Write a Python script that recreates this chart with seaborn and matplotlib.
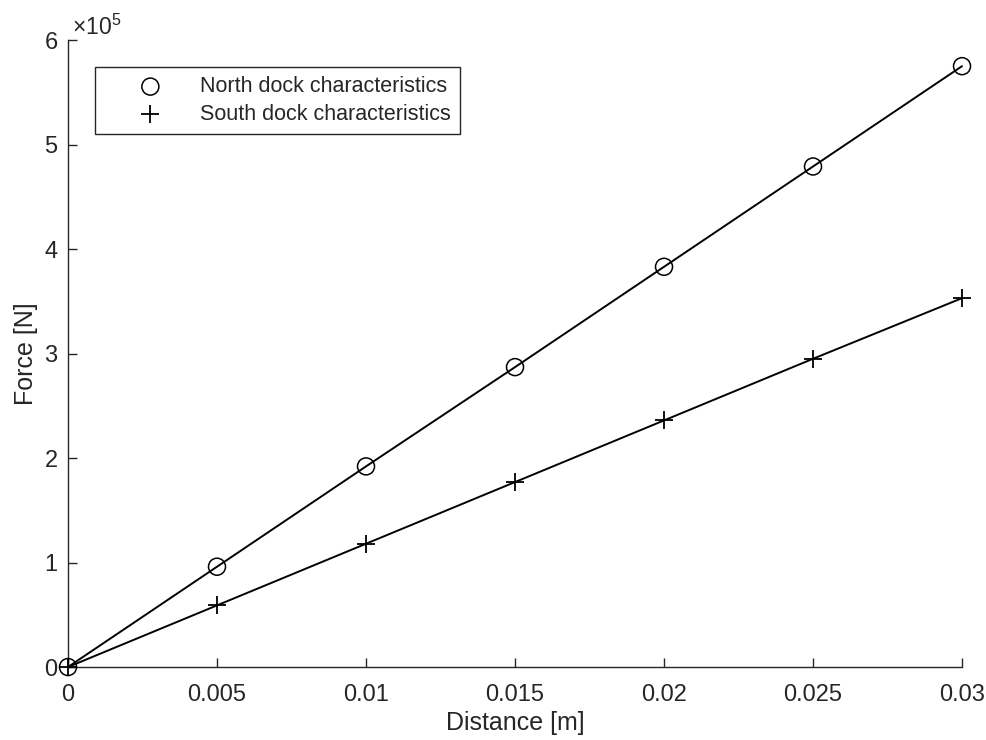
import matplotlib
matplotlib.use("Agg")
import matplotlib.pyplot as plt
from matplotlib.ticker import FuncFormatter
import seaborn as sns
import pandas as pd

# Measured dock characteristics
distance = [0.0, 0.005, 0.01, 0.015, 0.02, 0.025, 0.03]
north_force = [0.0, 0.96e5, 1.92e5, 2.87e5, 3.83e5, 4.79e5, 5.75e5]
south_force = [0.0, 0.59e5, 1.18e5, 1.77e5, 2.36e5, 2.95e5, 3.53e5]
x_ticks = [0, 0.005, 0.01, 0.015, 0.02, 0.025, 0.03]
y_ticks = [0, 1e5, 2e5, 3e5, 4e5, 5e5, 6e5]

sns.set_theme(style="ticks")
plt.rcParams["font.family"] = ["Liberation Sans", "DejaVu Sans"]
plt.rcParams["mathtext.fontset"] = "custom"
plt.rcParams["mathtext.rm"] = "Liberation Sans"
plt.rcParams["mathtext.it"] = "Liberation Sans"

TXT = "#262626"

north = pd.DataFrame({"x": distance, "y": north_force})
south = pd.DataFrame({"x": distance, "y": south_force})

fig = plt.figure(figsize=(9.87, 7.40), dpi=100)
ax = fig.add_axes([0.0689, 0.0986, 0.9058, 0.8473])

sns.lineplot(data=north, x="x", y="y", color="black", linewidth=1.4, ax=ax, legend=False)
sns.lineplot(data=south, x="x", y="y", color="black", linewidth=1.4, ax=ax, legend=False)
sns.scatterplot(data=north, x="x", y="y", marker="o", s=150, facecolor="none",
                edgecolor="black", linewidth=1.1, ax=ax, label="North dock characteristics", zorder=3)
sns.scatterplot(data=south, x="x", y="y", marker="+", s=170, color="black",
                linewidth=1.3, ax=ax, label="South dock characteristics", zorder=3)

ax.set_xlim(0, 0.03)
ax.set_ylim(0, 6e5)
ax.set_xticks(x_ticks)
ax.set_yticks(y_ticks)
ax.xaxis.set_major_formatter(FuncFormatter(lambda v, p: f"{v:g}"))
ax.yaxis.set_major_formatter(FuncFormatter(lambda v, p: f"{v / 1e5:g}"))
ax.tick_params(direction="in", length=6.5, width=1.0, colors=TXT, labelsize=17)
ax.tick_params(axis="x", pad=12)
ax.tick_params(axis="y", pad=7.5)
for s in ["top", "right"]:
    ax.spines[s].set_visible(False)
for s in ["left", "bottom"]:
    ax.spines[s].set_color(TXT)
    ax.spines[s].set_linewidth(1.0)
for c in ax.collections + ax.lines:
    c.set_clip_on(False)

ax.set_xlabel("Distance [m]", fontsize=18, color=TXT, labelpad=3.5)
ax.set_ylabel("Force [N]", fontsize=18, color=TXT, labelpad=4.5)
ax.text(0.005, 1.0, r"$\times 10^{5}$", transform=ax.transAxes, fontsize=16.5,
        color=TXT, ha="left", va="bottom")

leg = ax.legend(loc="upper left", bbox_to_anchor=(0.030, 0.957), borderaxespad=0,
                fontsize=15.5, frameon=True, fancybox=False, edgecolor=TXT, framealpha=1,
                handletextpad=0.17, borderpad=0.43, labelspacing=0.3, handlelength=4.3)
leg.get_frame().set_linewidth(1.0)
for t in leg.get_texts():
    t.set_color(TXT)

fig.savefig("out.png", dpi=100, facecolor="white")
